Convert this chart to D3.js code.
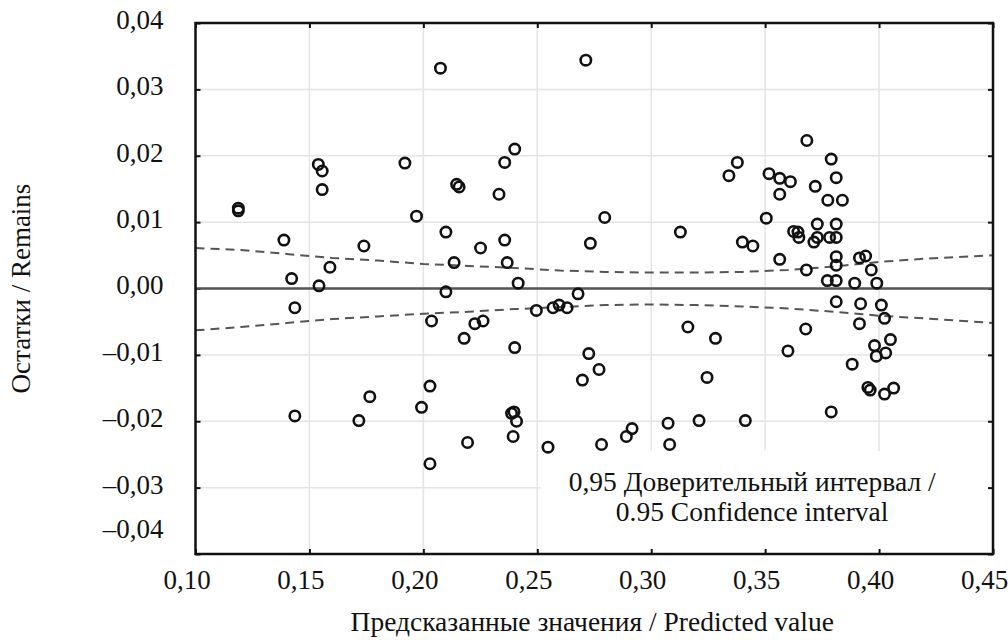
<!DOCTYPE html>
<html>
<head>
<meta charset="utf-8">
<script src="https://cdn.jsdelivr.net/npm/d3@7"></script>
<style>
  body { margin: 0; background: #fff; }
  #chart svg text { font-family: "Liberation Serif", "DejaVu Serif", serif; fill: #111; }
</style>
</head>
<body>
<div id="chart"></div>
<script>
// predicted value (x) and residual (y) of each observation
const predicted = [
  0.1188, 0.1188, 0.1388, 0.1422, 0.1436, 0.1436, 0.1539, 0.1556, 0.1556, 0.1542,
  0.1590, 0.1739, 0.1717, 0.1765, 0.1919, 0.1970, 0.1992, 0.2029, 0.2029, 0.2036,
  0.2075, 0.2099, 0.2099, 0.2135, 0.2146, 0.2157, 0.2179, 0.2194, 0.2226, 0.2251,
  0.2262, 0.2332, 0.2357, 0.2357, 0.2368, 0.2401, 0.2401, 0.2387, 0.2398, 0.2409,
  0.2394, 0.2416, 0.2496, 0.2547, 0.2569, 0.2596, 0.2631, 0.2679, 0.2713, 0.2733,
  0.2726, 0.2698, 0.2771, 0.2782, 0.2796, 0.2891, 0.2916, 0.3074, 0.3081, 0.3128,
  0.3161, 0.3210, 0.3245, 0.3282, 0.3341, 0.3378, 0.3400, 0.3446, 0.3413, 0.3505,
  0.3517, 0.3564, 0.3564, 0.3564, 0.3600, 0.3611, 0.3625, 0.3644, 0.3648, 0.3678,
  0.3681, 0.3683, 0.3714, 0.3720, 0.3729, 0.3729, 0.3773, 0.3775, 0.3783, 0.3790,
  0.3790, 0.3812, 0.3812, 0.3812, 0.3812, 0.3812, 0.3812, 0.3812, 0.3839, 0.3882,
  0.3893, 0.3914, 0.3941, 0.3914, 0.3919, 0.3951, 0.3961, 0.3966, 0.3980, 0.3988,
  0.3990, 0.4010, 0.4024, 0.4024, 0.4029, 0.4050, 0.4064
];
const residuals = [
  0.0121, 0.0117, 0.0073, 0.0015, -0.0029, -0.0192, 0.0187, 0.0177, 0.0149, 0.0004,
  0.0032, 0.0064, -0.0199, -0.0163, 0.0189, 0.0109, -0.0179, -0.0147, -0.0264, -0.0049,
  0.0332, 0.0085, -0.0005, 0.0039, 0.0157, 0.0153, -0.0075, -0.0232, -0.0053, 0.0061,
  -0.0049, 0.0142, 0.0190, 0.0073, 0.0039, 0.0210, -0.0089, -0.0188, -0.0186, -0.0200,
  -0.0223, 0.0008, -0.0033, -0.0239, -0.0029, -0.0025, -0.0029, -0.0008, 0.0344, 0.0068,
  -0.0098, -0.0138, -0.0122, -0.0235, 0.0107, -0.0223, -0.0211, -0.0203, -0.0235, 0.0085,
  -0.0058, -0.0199, -0.0134, -0.0075, 0.0170, 0.0190, 0.0070, 0.0064, -0.0199, 0.0106,
  0.0173, 0.0166, 0.0142, 0.0044, -0.0094, 0.0161, 0.0086, 0.0085, 0.0077, -0.0061,
  0.0028, 0.0223, 0.0070, 0.0154, 0.0097, 0.0077, 0.0012, 0.0133, 0.0077, 0.0195,
  -0.0186, 0.0167, 0.0097, 0.0077, 0.0048, 0.0035, 0.0012, -0.0020, 0.0133, -0.0114,
  0.0008, 0.0046, 0.0049, -0.0053, -0.0023, -0.0149, -0.0153, 0.0028, -0.0086, -0.0102,
  0.0008, -0.0025, -0.0045, -0.0159, -0.0097, -0.0077, -0.0150
];

// 0.95 confidence band
const bandX     = [0.10, 0.12, 0.14, 0.16, 0.18, 0.20, 0.22, 0.24, 0.26, 0.28, 0.30, 0.32, 0.34, 0.36, 0.38, 0.40, 0.42, 0.45];
const bandUpper = [0.0061, 0.0058, 0.0052, 0.0046, 0.0042, 0.0037, 0.0034, 0.0031, 0.0027, 0.0025, 0.0024, 0.0024, 0.0025, 0.0028, 0.0033, 0.0040, 0.0045, 0.0050];
const bandLower = [-0.0063, -0.0058, -0.0052, -0.0046, -0.0042, -0.0038, -0.0035, -0.0031, -0.0028, -0.0025, -0.0024, -0.0025, -0.0027, -0.0030, -0.0035, -0.0041, -0.0045, -0.0052];

const xTicks = [0.10, 0.15, 0.20, 0.25, 0.30, 0.35, 0.40, 0.45];
const yTicks = [-0.04, -0.03, -0.02, -0.01, 0, 0.01, 0.02, 0.03, 0.04];

const xTitle = "Предсказанные значения / Predicted value";
const yTitle = "Остатки / Remains";
const noteLines = ["0,95 Доверительный интервал /", "0.95 Confidence interval"];

const fmt = d => (d < 0 ? "\u2013" : "") + Math.abs(d).toFixed(2).replace(".", ",");

class ResidualPlot {

  constructor(_config) {
    this.config = {
      parentElement: _config.parentElement,
      containerWidth: 1008,
      containerHeight: 640
    }
    this.config.margin = _config.margin || { top: 23, bottom: 86, right: 15, left: 195.5 };
    this.initVis();
  }

  initVis() {
    let vis = this;
    let c = vis.config;
    c.width = c.containerWidth - c.margin.left - c.margin.right;
    c.height = c.containerHeight - c.margin.top - c.margin.bottom;

    vis.svg = d3.select(c.parentElement).append("svg")
        .attr("width", c.containerWidth)
        .attr("height", c.containerHeight);

    vis.chart = vis.svg.append("g")
        .attr("transform", "translate(" + c.margin.left + "," + c.margin.top + ")");

    vis.xScale = d3.scaleLinear().domain([0.10, 0.45]).range([0, c.width]);
    vis.yScale = d3.scaleLinear().domain([-0.04, 0.04]).range([c.height, 0]);

    vis.data = predicted.map((p, i) => ({ x: p, y: residuals[i] }));
    vis.band = bandX.map((b, i) => ({ x: b, hi: bandUpper[i], lo: bandLower[i] }));

    vis.updateVis();
  }

  updateVis() {
    let vis = this;
    let c = vis.config;

    // grid
    let grid = vis.chart.append("g").attr("stroke", "#e4e4e4").attr("stroke-width", 1.5);
    grid.selectAll(".vgrid")
      .data(xTicks.slice(1, -1))
      .join("line")
        .attr("x1", d => vis.xScale(d)).attr("x2", d => vis.xScale(d))
        .attr("y1", 0).attr("y2", c.height);
    grid.selectAll(".hgrid")
      .data(yTicks.slice(1, -1))
      .join("line")
        .attr("x1", 0).attr("x2", c.width)
        .attr("y1", d => vis.yScale(d)).attr("y2", d => vis.yScale(d));

    // white area behind the note
    vis.chart.append("rect")
        .attr("x", vis.xScale(0.2515)).attr("y", vis.yScale(-0.0245))
        .attr("width", c.width - vis.xScale(0.2515) - 2)
        .attr("height", c.height - vis.yScale(-0.0245) - 2)
        .attr("fill", "#fff");

    // axes (ticks inward)
    vis.chart.append("g")
        .call(d3.axisLeft(vis.yScale).tickValues(yTicks).tickSizeInner(-5).tickSizeOuter(0).tickPadding(32).tickFormat(fmt))
        .call(g => g.select(".domain").remove())
        .call(g => g.selectAll("text")
            .attr("dy", d => d === -0.04 ? "-0.6em" : "0.2em")
            .style("font-size", "27px"));
    vis.chart.append("g")
        .attr("transform", "translate(0," + c.height + ")")
        .call(d3.axisBottom(vis.xScale).tickValues(xTicks).tickSizeInner(-5).tickSizeOuter(0).tickPadding(16).tickFormat(fmt))
        .call(g => g.select(".domain").remove())
        .call(g => g.selectAll("text").attr("dx", -9).style("font-size", "27px"));
    vis.chart.append("g")
        .call(d3.axisTop(vis.xScale).tickValues(xTicks).tickSizeInner(-5).tickSizeOuter(0).tickFormat(""))
        .call(g => g.select(".domain").remove());
    vis.chart.append("g")
        .attr("transform", "translate(" + c.width + ",0)")
        .call(d3.axisRight(vis.yScale).tickValues(yTicks).tickSizeInner(-5).tickSizeOuter(0).tickFormat(""))
        .call(g => g.select(".domain").remove());
    vis.chart.selectAll(".tick line").attr("stroke", "#111").attr("stroke-width", 2);

    // zero line
    vis.chart.append("line")
        .attr("x1", 0).attr("x2", c.width)
        .attr("y1", vis.yScale(0)).attr("y2", vis.yScale(0))
        .attr("stroke", "#555").attr("stroke-width", 2.5);

    // confidence band
    ["hi", "lo"].forEach(k => {
      vis.chart.append("path")
          .datum(vis.band)
          .attr("fill", "none")
          .attr("stroke", "#555")
          .attr("stroke-width", 2)
          .attr("stroke-dasharray", "9,6")
          .attr("d", d3.line().x(d => vis.xScale(d.x)).y(d => vis.yScale(d[k])));
    });

    // points
    vis.chart.selectAll(".pt")
      .data(vis.data)
      .join("circle")
        .attr("class", "pt")
        .attr("cx", d => vis.xScale(d.x))
        .attr("cy", d => vis.yScale(d.y))
        .attr("r", 5.2)
        .attr("fill", "none")
        .attr("stroke", "#111")
        .attr("stroke-width", 2.6);

    // frame
    vis.chart.append("rect")
        .attr("width", c.width).attr("height", c.height)
        .attr("fill", "none").attr("stroke", "#111").attr("stroke-width", 2.5);

    // note
    vis.chart.append("text")
        .attr("x", vis.xScale(0.3443))
        .attr("y", vis.yScale(-0.0305))
        .attr("text-anchor", "middle")
        .style("font-size", "27.5px")
      .selectAll("tspan")
      .data(noteLines)
      .join("tspan")
        .attr("x", vis.xScale(0.3443))
        .attr("dy", (d, i) => i ? 30 : 0)
        .text(d => d);

    // titles
    vis.svg.append("text")
        .attr("x", c.margin.left + vis.xScale(0.2741))
        .attr("y", 631)
        .attr("text-anchor", "middle")
        .style("font-size", "27.5px")
        .text(xTitle);
    vis.svg.append("text")
        .attr("transform", "translate(30," + (c.margin.top + vis.yScale(0)) + ") rotate(-90)")
        .attr("text-anchor", "middle")
        .style("font-size", "27px")
        .text(yTitle);
  }
}

new ResidualPlot({ parentElement: "#chart" });
</script>
</body>
</html>
